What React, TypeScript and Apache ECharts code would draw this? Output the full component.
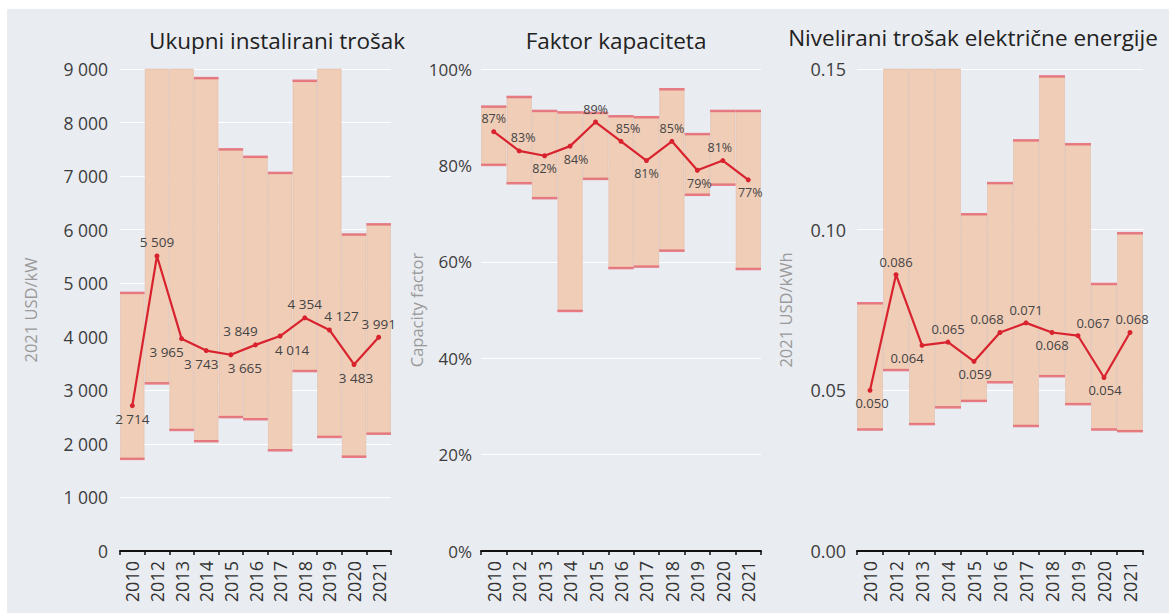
import React, { useEffect, useRef } from "react";
import * as echarts from "echarts";

const years = ["2010", "2012", "2013", "2014", "2015", "2016", "2017", "2018", "2019", "2020", "2021"];

// Ukupni instalirani trošak (2021 USD/kW)
const costAvg = [2714, 5509, 3965, 3743, 3665, 3849, 4014, 4354, 4127, 3483, 3991];
const costMin = [1720, 3130, 2260, 2050, 2500, 2460, 1880, 3360, 2130, 1760, 2190];
const costMax = [4820, 9500, 9500, 8830, 7500, 7360, 7060, 8780, 9500, 5910, 6100];

// Faktor kapaciteta (%)
const cfAvg = [87, 83, 82, 84, 89, 85, 81, 85, 79, 81, 77];
const cfMin = [80.1, 76.3, 73.2, 49.8, 77.2, 58.7, 59.0, 62.3, 73.9, 76.0, 58.5];
const cfMax = [92.2, 94.2, 91.3, 91.0, 90.9, 90.2, 90.0, 95.8, 86.5, 91.3, 91.3];

// Nivelirani trošak električne energije (2021 USD/kWh)
const lcoeAvg = [0.05, 0.086, 0.064, 0.065, 0.059, 0.068, 0.071, 0.068, 0.067, 0.054, 0.068];
const lcoeMin = [0.0378, 0.0563, 0.0395, 0.0447, 0.0467, 0.0525, 0.0389, 0.0544, 0.0457, 0.0378, 0.0373];
const lcoeMax = [0.0771, 0.16, 0.16, 0.16, 0.1048, 0.1145, 0.1278, 0.1477, 0.1266, 0.0831, 0.0989];

// label placement (position, horizontal offset)
const costLabelPos: [string, number][] = [["bottom", 0], ["top", 0], ["bottom", -15], ["bottom", -5], ["bottom", 14], ["top", -15], ["bottom", 12], ["top", 0], ["top", 12], ["bottom", 2], ["top", 0]];
const cfLabelPos: [string, number][] = [["top", 0], ["top", 4], ["bottom", 0], ["bottom", 6], ["top", 0], ["top", 7], ["bottom", 0], ["top", 0], ["bottom", 2], ["top", -3], ["bottom", 2]];
const lcoeLabelPos: [string, number][] = [["bottom", 2], ["top", 0], ["bottom", -15], ["top", 0], ["bottom", 1], ["top", -13], ["top", 0], ["bottom", 0], ["top", 15], ["bottom", 1], ["top", 2]];

const FONT = "Open Sans";
const BG = "#e9ecf1";
const BAR = "#f0cdb7";
const EDGE = "#e5626b";
const LINE = "#d8232f";

const spaced = (v: number) => String(v).replace(/\B(?=(\d{3})+(?!\d))/g, " ");

const grids = [
  { left: 120, top: 69, width: 271, height: 482 },
  { left: 481, top: 69, width: 280, height: 482 },
  { left: 857, top: 69, width: 286, height: 482 },
];

export default function App() {
  const ref = useRef<HTMLDivElement>(null);
  useEffect(() => {
    if (!ref.current) return;
    const chart = echarts.init(ref.current, undefined, { renderer: "svg" });

    const panels = [
      { avg: costAvg, min: costMin, max: costMax, pos: costLabelPos, fmt: (v: number) => spaced(v), lblSize: 13.5 },
      { avg: cfAvg, min: cfMin, max: cfMax, pos: cfLabelPos, fmt: (v: number) => v + "%", lblSize: 12.5 },
      { avg: lcoeAvg, min: lcoeMin, max: lcoeMax, pos: lcoeLabelPos, fmt: (v: number) => v.toFixed(3), lblSize: 13 },
    ];

    const series: any[] = [];
    panels.forEach((p, i) => {
      const catW = grids[i].width / years.length;
      series.push({
        type: "bar", xAxisIndex: i, yAxisIndex: i, stack: "s" + i, barWidth: "100%",
        itemStyle: { color: "transparent" }, data: p.min, silent: true, z: 1,
      });
      series.push({
        type: "bar", xAxisIndex: i, yAxisIndex: i, stack: "s" + i, barWidth: "100%",
        itemStyle: { color: BAR, borderColor: "rgba(220,170,145,0.35)", borderWidth: 1 },
        data: p.max.map((m, k) => m - p.min[k]), z: 1,
      });
      [p.max, p.min].forEach((arr) => {
        series.push({
          type: "scatter", xAxisIndex: i, yAxisIndex: i, symbol: "rect",
          symbolSize: [catW, 2.5], itemStyle: { color: EDGE }, data: arr, clip: true, z: 2,
        });
      });
      series.push({
        type: "line", xAxisIndex: i, yAxisIndex: i, z: 5,
        symbol: "circle", symbolSize: 5,
        lineStyle: { color: LINE, width: 2.2 }, itemStyle: { color: LINE },
        data: p.avg.map((v, k) => ({
          value: v,
          label: { position: p.pos[k][0], offset: [p.pos[k][1], 0] },
        })),
        label: {
          show: true, distance: 4, fontFamily: FONT, fontSize: p.lblSize, color: "#444",
          formatter: (d: any) => p.fmt(d.value),
        },
      });
    });

    const xAxis = grids.map((_, i) => ({
      type: "category", gridIndex: i, data: years, boundaryGap: true,
      axisLine: { lineStyle: { color: "#111", width: 2 } },
      axisTick: { show: true, length: 4, lineStyle: { color: "#111", width: 1.5 } },
      axisLabel: { rotate: 90, fontFamily: FONT, fontSize: 18, color: "#333", margin: 10 },
      splitLine: { show: false },
    }));

    const yCommon = {
      axisLine: { show: false }, axisTick: { show: false },
      splitLine: { lineStyle: { color: "#ffffff", width: 1.2 } },
      nameLocation: "middle",
      nameTextStyle: { fontFamily: FONT, fontSize: 16.5, color: "#9a9a9a" },
    };
    const yAxis = [
      { ...yCommon, type: "value", gridIndex: 0, min: 0, max: 9000, interval: 1000, name: "2021 USD/kW", nameGap: 81,
        axisLabel: { fontFamily: FONT, fontSize: 17.5, color: "#3d3d3d", margin: 12, formatter: (v: number) => spaced(v) } },
      { ...yCommon, type: "value", gridIndex: 1, min: 0, max: 100, interval: 20, name: "Capacity factor", nameGap: 54,
        axisLabel: { fontFamily: FONT, fontSize: 17, color: "#3d3d3d", margin: 9, formatter: "{value}%" } },
      { ...yCommon, type: "value", gridIndex: 2, min: 0, max: 0.15, interval: 0.05, name: "2021 USD/kWh", nameGap: 63,
        axisLabel: { fontFamily: FONT, fontSize: 18, color: "#3d3d3d", margin: 11, formatter: (v: number) => v.toFixed(2) } },
    ];

    const titles = [
      { text: "Ukupni instalirani trošak", x: 277, y: 40 },
      { text: "Faktor kapaciteta", x: 616, y: 40 },
      { text: "Nivelirani trošak električne energije", x: 973, y: 37 },
    ];

    chart.setOption({
      animation: false,
      backgroundColor: "#ffffff",
      graphic: [
        { type: "rect", z: -10, silent: true, shape: { x: 7, y: 9, width: 1162, height: 604 }, style: { fill: BG } },
        ...titles.map((t) => ({
          type: "text", x: t.x, y: t.y, z: 10,
          style: { text: t.text, fontFamily: FONT, fontSize: 22.5, fill: "#222", textAlign: "center", textVerticalAlign: "middle" },
        })),
      ],
      grid: grids.map((g) => ({ ...g, containLabel: false })),
      xAxis,
      yAxis,
      series,
    });
    return () => chart.dispose();
  }, []);
  return <div ref={ref} style={{ position: "absolute", left: 0, top: 0, width: 1169, height: 615 }} />;
}
